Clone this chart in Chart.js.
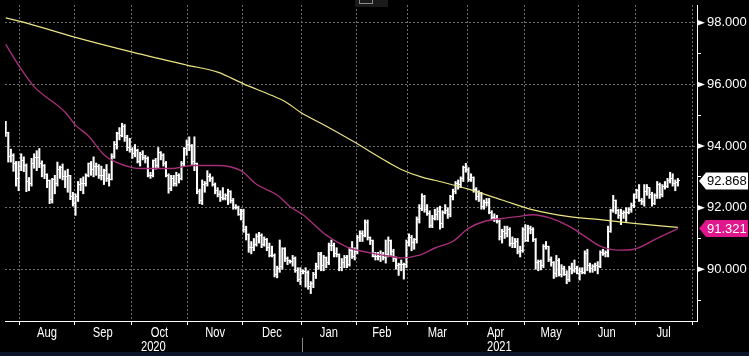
<!DOCTYPE html>
<html><head><meta charset="utf-8">
<script src="https://cdn.jsdelivr.net/npm/chart.js@4.4.1/dist/chart.umd.min.js"></script>
<style>html,body{margin:0;padding:0;background:#000;overflow:hidden}canvas{display:block}</style>
</head><body>
<canvas id="c" width="749" height="356"></canvas>
<script>
// ---- data (daily bars, weekdays starting 2020-07-24) ----
const startDate = '2020-07-24';
const opens = [
94.60,94.44,93.67,93.69,93.44,92.94,
93.35,93.54,93.36,92.86,92.79,93.44,93.63,93.64,93.43,93.38,93.09,92.87,92.26,92.91,92.79,93.25,93.30,93.01,93.00,93.03,92.37,
92.14,92.35,92.76,92.78,92.80,93.06,93.42,93.23,93.33,93.33,93.05,93.06,93.22,92.95,92.93,93.65,94.05,94.40,94.35,94.64,94.28,93.95,
93.89,93.76,93.84,93.49,93.73,93.64,93.60,93.06,93.05,93.52,93.37,93.79,93.69,93.42,93.05,92.61,92.95,92.77,93.05,92.96,93.42,93.91,
94.04,94.02,93.51,93.42,92.52,92.23,92.74,92.77,93.00,92.96,92.76,92.57,92.44,92.33,92.30,92.39,92.51,92.23,92.01,92.00,91.79,
91.87,91.28,91.13,90.70,90.70,90.80,91.06,91.09,90.80,90.97,90.72,90.46,90.46,89.82,90.02,90.08,90.66,90.34,90.27,90.24,90.34,89.96,89.68,
89.94,89.94,89.88,89.44,89.53,89.83,90.10,90.47,90.12,90.38,90.23,90.77,90.77,90.51,90.47,90.07,90.23,90.38,90.16,90.62,90.43,
90.58,91.02,91.15,91.11,91.53,91.04,90.94,90.42,90.42,90.42,90.48,90.39,90.47,90.94,90.58,90.36,90.11,90.15,90.14,90.15,
90.88,91.03,90.86,90.95,91.62,91.98,92.35,91.94,91.82,91.43,91.66,91.78,91.89,91.49,91.85,91.92,91.77,92.35,92.53,92.80,92.75,92.94,93.29,
93.23,92.93,92.97,92.59,92.35,92.47,92.05,92.16,92.17,91.85,91.69,91.66,91.56,91.06,91.24,91.15,91.30,90.85,90.84,90.90,90.58,90.62,
91.28,90.93,91.32,91.28,90.95,90.23,90.24,90.12,90.74,90.73,90.32,90.21,89.86,90.29,89.82,90.01,89.83,89.66,90.04,89.95,90.03,
89.85,89.92,89.91,90.52,90.13,90.02,90.09,90.11,90.08,90.55,90.52,90.54,91.23,91.90,92.23,91.90,91.76,91.80,91.83,91.84,91.95,92.08,
92.44,92.56,92.23,92.21,92.54,92.64,92.43,92.12,92.41,92.75,92.42,92.68,92.70,92.87,92.95,92.79,92.81
];
const highs = [
94.80,94.45,93.90,93.75,93.50,93.50,
93.75,93.65,93.42,92.98,93.60,93.75,93.85,93.92,93.52,93.40,93.10,92.90,92.95,93.05,93.48,93.35,93.42,93.20,93.25,93.05,92.50,
92.45,92.85,92.95,93.00,93.10,93.45,93.50,93.65,93.45,93.40,93.35,93.25,93.40,93.10,93.75,94.15,94.45,94.60,94.74,94.70,94.35,94.25,
93.95,94.05,93.90,93.80,93.85,93.70,93.65,93.15,93.55,93.60,93.95,93.82,93.75,93.50,93.10,93.05,93.05,93.15,93.10,93.50,93.95,94.20,
94.30,94.05,94.30,93.45,92.60,92.90,92.85,93.20,93.10,93.00,92.80,92.65,92.55,92.65,92.45,92.60,92.55,92.30,92.10,92.05,91.95,
91.95,91.40,91.15,90.90,91.00,91.15,91.20,91.15,91.05,91.00,90.85,90.75,90.50,90.10,90.95,90.70,90.70,90.40,90.30,90.45,90.40,90.05,90.05,
89.98,90.05,89.95,89.60,89.90,90.20,90.55,90.55,90.45,90.40,90.85,90.95,90.85,90.70,90.50,90.35,90.45,90.45,90.70,90.90,90.70,
91.10,91.25,91.25,91.60,91.60,91.05,90.95,90.55,90.55,90.60,90.55,90.95,91.05,90.95,90.65,90.40,90.20,90.30,90.20,90.95,
91.15,91.10,91.00,91.70,92.10,92.45,92.40,92.10,91.90,91.75,91.95,92.00,92.05,91.90,92.10,92.00,92.40,92.60,92.85,92.90,93.00,93.35,93.44,
93.30,93.10,93.00,92.65,92.55,92.50,92.25,92.30,92.30,91.90,91.80,91.75,91.60,91.30,91.40,91.40,91.35,91.05,91.00,91.00,90.75,91.35,
91.45,91.43,91.40,91.35,91.00,90.30,90.30,90.80,90.90,90.75,90.40,90.25,90.45,90.35,90.15,90.10,89.95,90.10,90.20,90.30,90.10,
90.05,90.05,90.60,90.65,90.20,90.15,90.20,90.25,90.60,90.65,90.60,91.40,91.95,92.40,92.25,91.95,91.95,91.90,92.00,92.00,92.15,92.45,
92.60,92.75,92.30,92.75,92.75,92.65,92.50,92.45,92.85,92.80,92.75,92.85,92.95,93.15,93.10,92.90,92.95
];
const lows = [
94.31,93.48,93.48,93.18,92.70,92.55,
93.20,93.17,92.52,92.55,92.70,93.28,93.20,93.30,93.00,92.94,92.65,92.13,92.15,92.45,92.70,92.95,92.90,92.65,92.50,92.26,92.05,
91.75,92.20,92.55,92.45,92.70,93.00,93.05,93.00,93.05,92.95,92.90,92.75,92.85,92.70,92.90,93.60,93.90,94.20,94.30,94.15,93.85,93.80,
93.60,93.65,93.45,93.35,93.55,93.45,93.00,92.95,93.00,93.25,93.30,93.55,93.35,93.00,92.47,92.55,92.70,92.70,92.80,92.90,93.35,93.70,
93.85,93.40,93.20,92.45,92.13,92.10,92.50,92.70,92.85,92.70,92.45,92.35,92.20,92.25,92.25,92.10,92.15,91.95,91.95,91.75,91.60,
91.20,90.95,90.55,90.50,90.60,90.75,90.85,90.70,90.75,90.60,90.40,90.40,89.75,89.72,89.90,90.00,90.25,90.15,90.20,90.10,89.90,89.60,89.50,
89.85,89.42,89.35,89.21,89.40,89.70,90.00,89.95,89.95,90.05,90.15,90.60,90.40,90.40,89.95,89.95,90.05,90.05,90.10,90.35,90.30,
90.50,90.90,90.90,91.05,90.95,90.80,90.40,90.30,90.30,90.25,90.30,90.20,90.40,90.45,90.25,90.00,89.80,89.95,89.68,90.05,
90.75,90.60,90.65,90.85,91.50,91.90,91.85,91.75,91.35,91.35,91.60,91.60,91.30,91.35,91.80,91.65,91.70,92.25,92.45,92.60,92.65,92.85,93.15,
92.85,92.85,92.50,92.25,92.20,91.95,91.95,92.05,91.80,91.60,91.55,91.50,90.95,90.85,91.00,91.05,90.75,90.70,90.70,90.50,90.40,90.55,
90.90,90.90,91.15,90.90,90.00,89.95,89.98,90.05,90.65,90.25,90.10,89.70,89.75,89.78,89.75,89.80,89.53,89.60,89.85,89.90,89.85,
89.65,89.85,89.85,89.95,89.90,89.90,89.95,89.85,90.05,90.45,90.40,90.40,91.20,91.85,91.80,91.65,91.45,91.65,91.55,91.80,91.85,92.00,
92.30,92.20,92.10,92.05,92.40,92.30,92.05,92.10,92.30,92.30,92.35,92.60,92.65,92.80,92.70,92.55,92.70
];
const closes = [
94.44,93.67,93.69,93.44,92.94,93.35,
93.54,93.36,92.86,92.79,93.44,93.63,93.64,93.43,93.38,93.09,92.87,92.26,92.91,92.79,93.25,93.30,93.01,93.00,93.03,92.37,92.14,
92.35,92.76,92.78,92.80,93.06,93.42,93.23,93.33,93.33,93.05,93.06,93.22,92.95,92.93,93.65,94.05,94.40,94.35,94.64,94.28,93.95,93.89,
93.76,93.84,93.49,93.73,93.64,93.60,93.06,93.05,93.52,93.37,93.79,93.69,93.42,93.05,92.61,92.95,92.77,93.05,92.96,93.42,93.91,94.04,
94.02,93.51,93.42,92.52,92.23,92.74,92.77,93.00,92.96,92.76,92.57,92.44,92.33,92.30,92.39,92.51,92.23,92.01,92.00,91.79,91.87,
91.28,91.13,90.70,90.70,90.80,91.06,91.09,90.80,90.97,90.72,90.46,90.46,89.82,90.02,90.08,90.66,90.34,90.27,90.24,90.34,89.96,89.68,89.94,
89.94,89.88,89.44,89.53,89.83,90.10,90.47,90.12,90.38,90.23,90.77,90.77,90.51,90.47,90.07,90.23,90.38,90.16,90.62,90.43,90.58,
91.02,91.15,91.11,91.53,91.04,90.94,90.42,90.42,90.42,90.48,90.39,90.47,90.94,90.58,90.36,90.11,90.15,90.14,90.15,90.88,
91.03,90.86,90.95,91.62,91.98,92.35,91.94,91.82,91.43,91.66,91.78,91.89,91.49,91.85,91.92,91.77,92.35,92.53,92.80,92.75,92.94,93.29,93.23,
92.93,92.97,92.59,92.35,92.47,92.05,92.16,92.17,91.85,91.69,91.66,91.56,91.06,91.24,91.15,91.30,90.85,90.84,90.90,90.58,90.62,91.28,
90.93,91.32,91.28,90.95,90.23,90.24,90.12,90.74,90.73,90.32,90.21,89.86,90.29,89.82,90.01,89.83,89.66,90.04,89.95,90.03,89.85,
89.92,89.91,90.52,90.13,90.02,90.09,90.11,90.08,90.55,90.52,90.54,91.23,91.90,92.23,91.90,91.76,91.80,91.83,91.84,91.95,92.08,92.44,
92.56,92.23,92.21,92.54,92.64,92.43,92.12,92.41,92.75,92.42,92.68,92.70,92.87,92.95,92.79,92.81,92.868
];
// moving averages (trading-day index, value)
const ma50Idx = [0,6,11,23,27,32,38,42,49,54,64,72,82,91,97,105,110,115,123,128,133,141,148,153,160,166,173,179,185,192,198,204,211,218,224,230,237,243,252,260];
const ma50Val = [97.30,96.50,95.93,95.10,94.68,94.33,93.72,93.50,93.30,93.27,93.27,93.37,93.37,93.20,92.76,92.41,92.03,91.77,91.17,90.90,90.69,90.53,90.43,90.37,90.46,90.69,90.91,91.33,91.55,91.65,91.71,91.77,91.65,91.39,91.07,90.75,90.62,90.65,91.00,91.321];
const ma200Idx = [0,6,27,49,70,82,92,103,108,114,123,134,148,153,161,166,179,192,204,218,230,243,260];
const ma200Val = [98.16,98.04,97.53,97.05,96.63,96.40,96.02,95.64,95.45,95.10,94.69,94.17,93.47,93.24,92.99,92.89,92.60,92.25,91.93,91.71,91.61,91.49,91.36];
const yTicks = [89,90,91,92,93,94,95,96,97,98];
const monthNames = ['Jan','Feb','Mar','Apr','May','Jun','Jul','Aug','Sep','Oct','Nov','Dec'];

// ---- axis ranges / layout ----
const xMin = -0.27, xMax = 267.4, yMin = 88.32, yMax = 98.58;

// weekday calendar for the x axis
const dates = [];
{ const d = new Date(startDate + 'T00:00:00Z');
  while (dates.length < 275) { const w = d.getUTCDay(); if (w !== 0 && w !== 6) dates.push(new Date(d)); d.setUTCDate(d.getUTCDate() + 1); } }
const bounds = [];
for (let i = 1; i < dates.length; i++) {
  if (dates[i].getUTCMonth() !== dates[i-1].getUTCMonth() && i - 0.5 <= xMax) bounds.push({v: i - 0.5, m: dates[i].getUTCMonth(), y: dates[i].getUTCFullYear()});
}
const monthSegs = [];
for (let k = 0; k + 1 < bounds.length; k++) monthSegs.push({name: monthNames[bounds[k].m], center: (bounds[k].v + bounds[k+1].v) / 2});
const yearBound = bounds.find(b => b.m === 0);
const yearSegs = [
  {name: String(yearBound.y - 1), center: (xMin + yearBound.v) / 2},
  {name: String(yearBound.y), center: (yearBound.v + xMax) / 2}
];

function tickImg(left) {
  const c = document.createElement('canvas'); c.width = 4; c.height = 1;
  const g = c.getContext('2d'); g.fillStyle = '#ffffff'; g.fillRect(left ? 0 : 2, 0, 2, 1);
  return c;
}

const SANS = "'Liberation Sans',Arial,sans-serif";

const deco = {
  id: 'deco',
  beforeDraw(chart) {
    const c = chart.ctx; c.save(); c.fillStyle = '#000'; c.fillRect(0, 0, chart.width, chart.height); c.restore();
  },
  afterDraw(chart) {
    const c = chart.ctx, xs = chart.scales.x, ys = chart.scales.y, a = chart.chartArea;
    c.save();
    // major tick arrows on value axis
    c.fillStyle = '#fff';
    yTicks.filter(v => v % 2 === 0).forEach(v => {
      const y = ys.getPixelForValue(v);
      c.beginPath(); c.moveTo(a.right, y - 3); c.lineTo(a.right + 8, y); c.lineTo(a.right, y + 3); c.closePath(); c.fill();
    });
    // month and year labels, narrow face
    const narrow = (txt, x, y) => { c.save(); c.translate(x, y); c.scale(0.8, 1); c.fillText(txt, 0, 0); c.restore(); };
    c.font = '14px ' + SANS; c.textAlign = 'center'; c.textBaseline = 'middle'; c.fillStyle = '#fff';
    monthSegs.forEach(s => narrow(s.name, xs.getPixelForValue(s.center), a.bottom + 12));
    yearSegs.forEach(s => narrow(s.name, xs.getPixelForValue(s.center), a.bottom + 26));
    // year separator
    const sx = Math.round(xs.getPixelForValue(yearBound.v)) + 0.5;
    c.strokeStyle = '#8a8a8a'; c.lineWidth = 1;
    c.beginPath(); c.moveTo(sx, a.bottom + 17); c.lineTo(sx, chart.height - 4); c.stroke();
    // last value tags
    const tag = (val, bg, fg) => {
      const y = ys.getPixelForValue(val);
      c.beginPath(); c.moveTo(a.right + 2, y); c.lineTo(a.right + 9, y - 8.5); c.lineTo(chart.width - 1, y - 8.5);
      c.lineTo(chart.width - 1, y + 8.5); c.lineTo(a.right + 9, y + 8.5); c.closePath();
      c.fillStyle = bg; c.fill();
      c.fillStyle = fg; c.font = '13px ' + SANS; c.textAlign = 'left'; c.textBaseline = 'middle';
      c.fillText(val.toFixed(3), a.right + 10, y + 0.5);
    };
    tag(closes[closes.length - 1], '#ffffff', '#000000');
    tag(ma50Val[ma50Val.length - 1], '#e0178c', '#ffffff');
    // small toolbar icon at top and bottom band
    c.fillStyle = '#1a1a1a'; c.fillRect(355, 0, 33, 7);
    c.strokeStyle = '#8c8c8c'; c.strokeRect(359.5, -1, 13, 4.5);
    c.fillStyle = '#0c1628'; c.fillRect(0, chart.height - 4, chart.width, 4);
    c.restore();
  }
};

const noPad = s => { s.paddingTop = 0; s.paddingBottom = 0; s.paddingLeft = 0; s.paddingRight = 0; };

new Chart(document.getElementById('c'), {
  type: 'bar',
  data: {
    datasets: [
      { type: 'line', label: '50d', data: ma50Idx.map((x, i) => ({x, y: ma50Val[i]})), borderColor: '#a52e78', borderWidth: 1.4,
        pointRadius: 0, cubicInterpolationMode: 'monotone', order: 0 },
      { type: 'line', label: '200d', data: ma200Idx.map((x, i) => ({x, y: ma200Val[i]})), borderColor: '#ebe384', borderWidth: 1.2,
        pointRadius: 0, cubicInterpolationMode: 'monotone', order: 0 },
      { type: 'line', label: 'open', data: opens.map((y, x) => ({x, y})), showLine: false, pointStyle: tickImg(true),
        pointRadius: 2, order: 1 },
      { type: 'line', label: 'close', data: closes.map((y, x) => ({x, y})), showLine: false, pointStyle: tickImg(false),
        pointRadius: 2, order: 1 },
      { type: 'bar', label: 'range', data: highs.map((h, x) => ({x, y: [lows[x], h]})), backgroundColor: '#ffffff',
        borderWidth: 0, barThickness: 1.4, grouped: false, order: 2 }
    ]
  },
  options: {
    responsive: false, animation: false, devicePixelRatio: 1, events: [],
    layout: { padding: 0 },
    plugins: { legend: { display: false }, tooltip: { enabled: false } },
    scales: {
      x: {
        type: 'linear', position: 'bottom', min: xMin, max: xMax, offset: false,
        afterBuildTicks: s => { s.ticks = bounds.map(b => ({value: b.v})); },
        afterFit: s => { s.height = 35; noPad(s); },
        ticks: { display: false },
        grid: { color: '#6e6e6e', lineWidth: 1, drawTicks: true, tickLength: 4, tickColor: '#ffffff', offset: false },
        border: { display: true, color: '#ffffff', width: 1, dash: [2, 2] }
      },
      y: {
        type: 'linear', position: 'right', min: yMin, max: yMax,
        afterBuildTicks: s => { s.ticks = yTicks.map(v => ({value: v})); },
        afterFit: s => { s.width = 52; noPad(s); },
        ticks: { color: '#ffffff', font: { family: SANS, size: 13 }, padding: 6, autoSkip: false,
          callback: v => (v % 2 === 0 ? v.toFixed(3) : '') },
        grid: { color: c => (c.tick && c.tick.value % 2 === 0 ? '#6e6e6e' : 'rgba(0,0,0,0)'), drawTicks: true,
          tickLength: 4, tickColor: '#ffffff' },
        border: { display: true, color: '#ffffff', width: 1, dash: [2, 2] }
      }
    }
  },
  plugins: [deco]
});
</script>
</body></html>
